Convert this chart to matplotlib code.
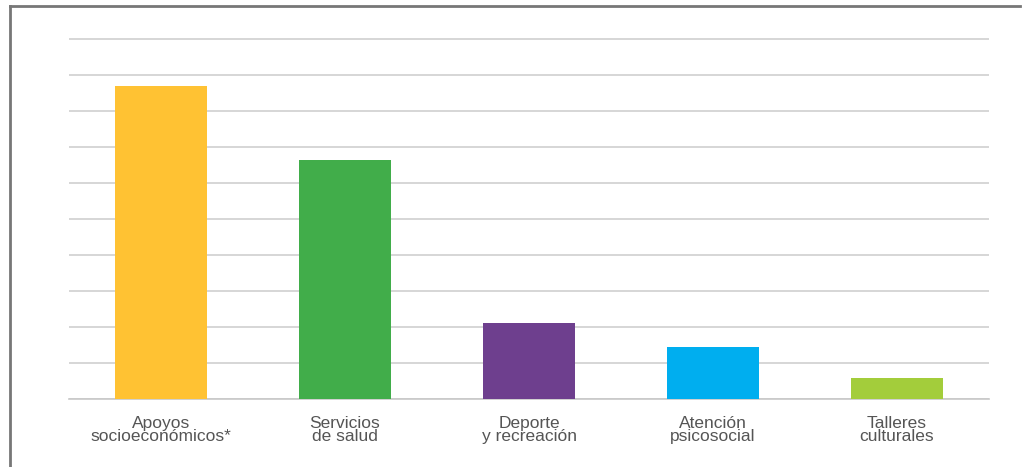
import matplotlib.pyplot as plt
from matplotlib.lines import Line2D

# Data (no y scale shown; units = gridline steps)
categories = ['Apoyos\nsocioeconómicos*', 'Servicios\nde salud', 'Deporte\ny recreación',
              'Atención\npsicosocial', 'Talleres\nculturales']
values = [8.7, 6.64, 2.11, 1.45, 0.58]
colors = ['#FFC233', '#41AD4A', '#6E3F8E', '#00AEEF', '#A3CD3B']

fig = plt.figure(figsize=(10.30, 4.67), dpi=100)
ax = fig.add_axes([69/1030, 68/467, 920/1030, 361/467])

x = range(len(categories))
ax.bar(x, values, width=0.5, color=colors, zorder=3)

ax.set_xlim(-0.5, 4.5)
ax.set_ylim(0, 10.03)
ax.set_yticks(range(0, 11))
ax.set_yticklabels([])
ax.tick_params(axis='y', length=0)
ax.grid(axis='y', color='#d0d0d0', linewidth=1.2, zorder=0)
for s in ['top', 'right', 'left']:
    ax.spines[s].set_visible(False)
ax.spines['bottom'].set_color('#c8c8c8')
ax.spines['bottom'].set_linewidth(1.2)

ax.set_xticks(list(x))
ax.set_xticklabels(categories, fontsize=12.5, color='#555555', linespacing=0.9,
                   family=['Liberation Sans Narrow', 'Liberation Sans', 'DejaVu Sans'])
ax.tick_params(axis='x', length=0, pad=12)

# frame line on left and top edge
fig.add_artist(Line2D([9.5/1030, 9.5/1030], [0, 1 - 5.5/467], transform=fig.transFigure,
                      color='#777777', linewidth=2))
fig.add_artist(Line2D([9.5/1030, 1020/1030], [1 - 5.5/467, 1 - 5.5/467], transform=fig.transFigure,
                      color='#777777', linewidth=2))

fig.savefig('out.png', dpi=100)
